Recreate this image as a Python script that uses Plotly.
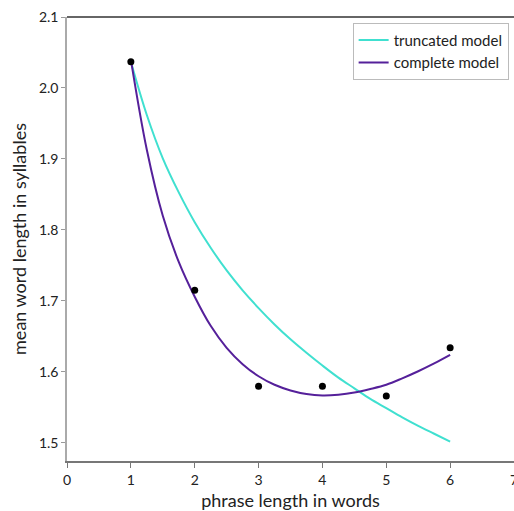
import plotly.graph_objects as go

# observed data
phrase_len = [1, 2, 3, 4, 5, 6]
mean_len = [2.037, 1.715, 1.580, 1.580, 1.566, 1.634]

# model curves
curve_x = [1, 1.25, 1.5, 1.75, 2, 2.25, 2.5, 2.75, 3, 3.25, 3.5, 3.75, 4,
           4.25, 4.5, 4.75, 5, 5.25, 5.5, 5.75, 6]
truncated_y = [2.037, 1.962, 1.901, 1.853, 1.811, 1.775, 1.743, 1.715, 1.690,
               1.667, 1.646, 1.627, 1.609, 1.592, 1.577, 1.562, 1.549, 1.536,
               1.524, 1.513, 1.502]
complete_y = [2.040, 1.913, 1.820, 1.755, 1.706, 1.665, 1.634, 1.611, 1.594,
              1.582, 1.574, 1.569, 1.567, 1.568, 1.571, 1.576, 1.582, 1.591,
              1.601, 1.612, 1.624]

xticks = [0, 1, 2, 3, 4, 5, 6, 7]
yticks = [1.5, 1.6, 1.7, 1.8, 1.9, 2.0, 2.1]

FONT = "Lato, Liberation Sans, sans-serif"

fig = go.Figure()
fig.add_trace(go.Scatter(x=curve_x, y=truncated_y, mode="lines", name="truncated model",
                         line=dict(color="#40E0D0", width=2, shape="spline")))
fig.add_trace(go.Scatter(x=curve_x, y=complete_y, mode="lines", name="complete model",
                         line=dict(color="#55209A", width=2, shape="spline")))
fig.add_trace(go.Scatter(x=phrase_len, y=mean_len, mode="markers", showlegend=False,
                         marker=dict(color="black", size=7)))

fig.update_layout(
    width=514, height=511,
    margin=dict(l=67, r=0, t=17, b=50),
    paper_bgcolor="white", plot_bgcolor="white",
    font=dict(family=FONT, color="#222"),
    legend=dict(x=0.988, y=0.987, xanchor="right", yanchor="top",
                bgcolor="white", bordercolor="#bbbbbb", borderwidth=1,
                tracegroupgap=2,
                font=dict(size=15, family=FONT, color="#222")),
    xaxis=dict(range=[0, 7], tickvals=xticks, ticktext=[str(v) for v in xticks],
               showgrid=False, zeroline=False, showline=True, linecolor="#777",
               linewidth=1.5, ticks="outside", ticklen=5, tickcolor="#777",
               ticklabeloverflow="allow", automargin=False,
               tickfont=dict(size=14, family=FONT, color="#222"),
               title=dict(text="phrase length in words", font=dict(size=18, family=FONT, color="#222"),
                          standoff=8)),
    yaxis=dict(range=[1.4746, 2.1], tickvals=yticks, ticktext=[f"{v:.1f}" for v in yticks],
               showgrid=False, zeroline=False, showline=True, linecolor="#aaaaaa",
               linewidth=1.5, ticks="outside", ticklen=4, tickcolor="#999",
               automargin=False,
               tickfont=dict(size=14, family=FONT, color="#222"),
               title=dict(text="mean word length in syllables", font=dict(size=18, family=FONT, color="#222"),
                          standoff=8)),
)
fig.add_shape(type="line", xref="paper", yref="paper", x0=0, x1=1, y0=1, y1=1,
              line=dict(color="#333", width=1.5))

fig.write_html("out.html", config={"displayModeBar": False},
               post_script="document.body.style.margin='0px';document.body.style.overflow='hidden';")
